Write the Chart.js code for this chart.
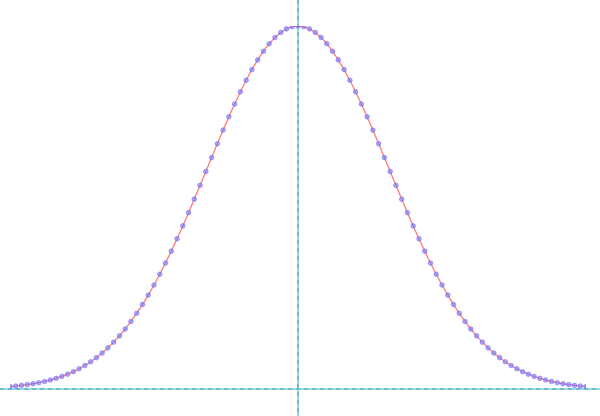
<!DOCTYPE html>
<html>
<head>
<meta charset="utf-8">
<script src="https://cdn.jsdelivr.net/npm/chart.js@4/dist/chart.umd.min.js"></script>
<style>
  html, body { margin: 0; padding: 0; background: #fff; }
  #wrap { width: 600px; height: 416px; position: relative; }
</style>
</head>
<body>
<div id="wrap"><canvas id="chart"></canvas></div>
<script>
// x positions of the sampled points (-1 .. 1, step 0.02)
const xValues = [];
for (let k = -50; k <= 50; k++) xValues.push(+(k * 0.02).toFixed(2));

// curve heights, left half up to the peak
const leftHalf = [
  0.0067, 0.0082, 0.0100, 0.0120, 0.0145, 0.0174, 0.0208, 0.0248, 0.0294, 0.0347,
  0.0408, 0.0477, 0.0557, 0.0647, 0.0749, 0.0863, 0.0991, 0.1133, 0.1290, 0.1463,
  0.1653, 0.1860, 0.2085, 0.2327, 0.2587, 0.2865, 0.3160, 0.3471, 0.3798, 0.4140,
  0.4493, 0.4858, 0.5231, 0.5610, 0.5993, 0.6376, 0.6757, 0.7132, 0.7498, 0.7851,
  0.8187, 0.8504, 0.8799, 0.9066, 0.9305, 0.9512, 0.9685, 0.9822, 0.9920, 0.9980,
  1.0000
];
const rightHalf = leftHalf.slice(0, 50).reverse();
const yValues = leftHalf.concat(rightHalf);

const points = xValues.map((x, i) => ({ x: x, y: yValues[i] }));

// draws the two dashed axis lines through zero
const zeroAxes = {
  id: 'zeroAxes',
  beforeDatasetsDraw(chart) {
    const ctx = chart.ctx;
    const x0 = chart.scales.x.getPixelForValue(0);
    const y0 = chart.scales.y.getPixelForValue(0);
    const w = chart.width, h = chart.height;
    ctx.save();
    // light cyan base
    ctx.strokeStyle = 'rgba(120, 220, 235, 0.9)';
    ctx.lineWidth = 2;
    ctx.beginPath();
    ctx.moveTo(0, y0); ctx.lineTo(w, y0);
    ctx.moveTo(x0, 0); ctx.lineTo(x0, h);
    ctx.stroke();
    // gray dashes on top
    ctx.strokeStyle = 'rgba(120, 120, 120, 0.8)';
    ctx.lineWidth = 1;
    ctx.setLineDash([4, 4]);
    ctx.beginPath();
    ctx.moveTo(0, y0); ctx.lineTo(w, y0);
    ctx.moveTo(x0, 0); ctx.lineTo(x0, h);
    ctx.stroke();
    ctx.restore();
  }
};

new Chart(document.getElementById('chart'), {
  type: 'line',
  data: {
    datasets: [{
      data: points,
      borderColor: 'rgba(255, 100, 100, 0.85)',
      borderWidth: 1.3,
      pointRadius: 2.3,
      pointBackgroundColor: 'rgba(110, 110, 255, 0.55)',
      pointBorderColor: 'rgba(110, 110, 255, 0.6)',
      pointBorderWidth: 1,
      tension: 0,
      fill: false
    }]
  },
  options: {
    responsive: true,
    maintainAspectRatio: false,
    animation: false,
    layout: { padding: { left: 10, right: 14, top: 26, bottom: 27 } },
    plugins: { legend: { display: false }, tooltip: { enabled: false } },
    scales: {
      x: { type: 'linear', min: -1, max: 1, display: false },
      y: { min: 0, max: 1, display: false }
    }
  },
  plugins: [zeroAxes]
});
</script>
</body>
</html>
